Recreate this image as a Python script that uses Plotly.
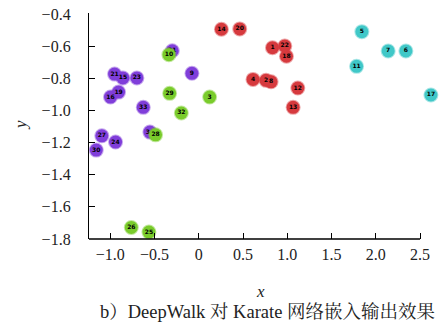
import plotly.graph_objects as go

# ---- data ----
purple_labels = ["9", "15", "16", "19", "21", "23", "24", "27", "30", "31", "33", "34"]
purple_x = [-0.077, -0.857, -0.997, -0.906, -0.951, -0.699, -0.940, -1.095, -1.158, -0.299, -0.627, -0.552]
purple_y = [-0.769, -0.798, -0.917, -0.886, -0.774, -0.798, -1.197, -1.158, -1.247, -0.629, -0.981, -1.135]

green_labels = ["3", "10", "25", "26", "28", "29", "32"]
green_x = [0.123, -0.337, -0.563, -0.762, -0.488, -0.329, -0.197]
green_y = [-0.917, -0.653, -1.757, -1.728, -1.152, -0.894, -1.016]

red_labels = ["1", "2", "4", "8", "12", "13", "14", "18", "20", "22"]
red_x = [0.833, 0.760, 0.613, 0.817, 1.119, 1.066, 0.256, 0.991, 0.463, 0.972]
red_y = [-0.610, -0.813, -0.807, -0.822, -0.861, -0.981, -0.495, -0.663, -0.493, -0.599]

cyan_labels = ["5", "6", "7", "11", "17"]
cyan_x = [1.843, 2.340, 2.140, 1.783, 2.623]
cyan_y = [-0.510, -0.630, -0.630, -0.726, -0.904]

x_ticks = [-1.0, -0.5, 0, 0.5, 1.0, 1.5, 2.0, 2.5]
x_ticktext = ["\u22121.0", "\u22120.5", "0", "0.5", "1.0", "1.5", "2.0", "2.5"]
y_ticks = [-0.4, -0.6, -0.8, -1.0, -1.2, -1.4, -1.6, -1.8]
y_ticktext = ["\u22120.4", "\u22120.6", "\u22120.8", "\u22121.0", "\u22121.2", "\u22121.4", "\u22121.6", "\u22121.8"]

caption = "b\uff09DeepWalk 对 Karate 网络嵌入输出效果"

groups = [
    (purple_labels, purple_x, purple_y, "rgb(128,62,218)", "rgba(128,62,218,0.45)"),
    (green_labels, green_x, green_y, "rgb(122,204,44)", "rgba(122,204,44,0.45)"),
    (red_labels, red_x, red_y, "rgb(214,58,62)", "rgba(214,58,62,0.45)"),
    (cyan_labels, cyan_x, cyan_y, "rgb(64,200,200)", "rgba(64,200,200,0.45)"),
]

serif = "Liberation Serif, Times New Roman, serif"
cjk = "Liberation Serif, Noto Serif CJK SC, Noto Sans CJK SC, serif"

W, H = 442, 329
ML, MR, MT, MB = 89, 4, 13, 90
PW, PH = W - ML - MR, H - MT - MB
X_MIN, X_AXIS_END = -1.24, 2.5
X_MAX = 2.703


def px_x(px):
    return (px - ML) / PW


def px_y(py):
    return (H - MB - py) / PH


fig = go.Figure()
for labels, xs, ys, col, edge in groups:
    fig.add_trace(go.Scatter(
        x=xs, y=ys, text=labels, mode="markers+text",
        textposition="middle center",
        textfont=dict(size=6, color="black", family="DejaVu Sans", weight="bold"),
        marker=dict(size=13, color=col, line=dict(width=2, color=edge)),
        cliponaxis=False, showlegend=False, hoverinfo="skip",
    ))

axis_common = dict(
    linecolor="black", linewidth=1.3,
    ticks="inside", ticklen=6, tickwidth=1.3, tickcolor="black",
    showgrid=False, zeroline=False, mirror=False, automargin=False,
    tickfont=dict(family=serif, size=16, color="#222"),
)

fig.update_xaxes(range=[X_MIN, X_MAX], tickmode="array", tickvals=x_ticks, showline=False,
                 ticktext=x_ticktext, ticklabelstandoff=4, **axis_common)
fig.update_yaxes(range=[-1.8, -0.394], tickmode="array", tickvals=y_ticks, showline=True,
                 ticktext=y_ticktext, ticklabelstandoff=14, **axis_common)

# x-axis line that stops at the last tick (2.5), as in the reference
fig.add_shape(type="line", xref="x", yref="paper", x0=X_MIN, x1=X_AXIS_END, y0=0, y1=0,
              line=dict(color="black", width=1.3), layer="above")

fig.update_layout(annotations=[
    dict(text="<i>x</i>", x=px_x(260), y=px_y(291), xref="paper", yref="paper",
         xanchor="center", yanchor="middle", showarrow=False,
         font=dict(family=serif, size=17, color="#222")),
    dict(text="<i>y</i>", x=px_x(20), y=px_y(125), xref="paper", yref="paper",
         xanchor="center", yanchor="middle", showarrow=False, textangle=-90,
         font=dict(family=serif, size=17, color="#222")),
    dict(text=caption, x=px_x(267), y=px_y(312), xref="paper", yref="paper",
         xanchor="center", yanchor="middle", showarrow=False,
         font=dict(family=cjk, size=18.5, color="#222")),
])

fig.update_layout(
    width=W, height=H,
    margin=dict(l=ML, r=MR, t=MT, b=MB),
    paper_bgcolor="white", plot_bgcolor="white",
)

fig.write_html("out.html", config={"displayModeBar": False},
               post_script="document.body.style.margin='0';document.body.style.overflow='hidden';")
